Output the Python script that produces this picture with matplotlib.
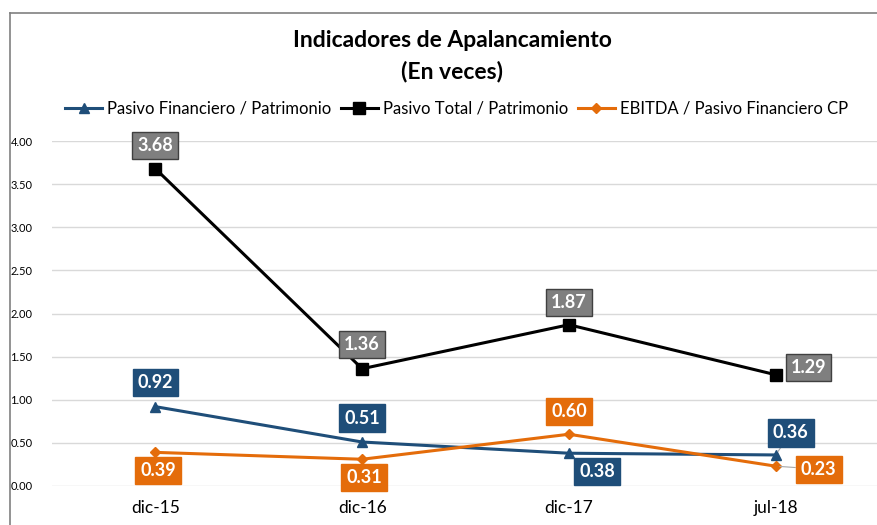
import matplotlib.pyplot as plt
from matplotlib.lines import Line2D

plt.rcParams['font.family'] = ['Lato', 'DejaVu Sans']

periods = ['dic-15', 'dic-16', 'dic-17', 'jul-18']
pas_fin_patr = [0.92, 0.51, 0.38, 0.36]
pas_tot_patr = [3.68, 1.36, 1.87, 1.29]
ebitda_pfcp = [0.39, 0.31, 0.60, 0.23]

blue = '#1F4E79'
orange = '#E46C0A'
gray = '#7F7F7F'

fig = plt.figure(figsize=(8.78, 5.25), dpi=100)
ax = fig.add_axes([0.0592, 0.0743, 0.942, 0.657])

x = range(len(periods))
ax.plot(x, pas_fin_patr, color=blue, lw=2.2, marker='^', ms=7,
        label='Pasivo Financiero / Patrimonio', clip_on=False, zorder=3)
ax.plot(x, pas_tot_patr, color='black', lw=2.2, marker='s', ms=8,
        label='Pasivo Total / Patrimonio', clip_on=False, zorder=4)
ax.plot(x, ebitda_pfcp, color=orange, lw=2.2, marker='D', ms=5,
        label='EBITDA / Pasivo Financiero CP', clip_on=False, zorder=3)

ax.set_xlim(-0.5, 3.5)
ax.set_ylim(0, 4)
ax.set_yticks([0, 0.5, 1, 1.5, 2, 2.5, 3, 3.5, 4])
ax.set_yticklabels(['%.2f' % v for v in ax.get_yticks()], fontsize=8)
ax.set_xticks(list(x))
ax.set_xticklabels(periods, fontsize=12.5)
ax.grid(axis='y', color='#D9D9D9', lw=1)
ax.set_axisbelow(True)
for s in ax.spines.values():
    s.set_visible(False)
ax.tick_params(length=0)
ax.tick_params(axis='y', pad=14)
ax.tick_params(axis='x', pad=10)

# offsets of the data labels in pixels
offs_blue = [(0, 24), (0, 24), (28, -18), (15, 22)]
offs_black = [(0, 23), (0, 24), (0, 22), (33, 7)]
offs_orange = [(3, -18), (2, -18), (0, 23), (43, -3)]

def labels(vals, offs, fc, ec, leaders=()):
    for i, (v, o) in enumerate(zip(vals, offs)):
        ap = None
        if i in leaders:
            ap = dict(arrowstyle='-', color='#A6A6A6', lw=0.8, shrinkA=0, shrinkB=3)
        ax.annotate('%.2f' % v, (i, v), xytext=o, textcoords='offset pixels',
                    ha='center', va='center', color='white', fontsize=13,
                    fontweight='bold', annotation_clip=False, arrowprops=ap,
                    bbox=dict(boxstyle='square,pad=0.28', fc=fc, ec=ec, lw=1),
                    zorder=6)

labels(pas_fin_patr, offs_blue, blue, blue, leaders=(3,))
labels(pas_tot_patr, offs_black, gray, '#404040')
labels(ebitda_pfcp, offs_orange, orange, orange, leaders=(3,))

fig.text(0.515, 0.922, 'Indicadores de Apalancamiento', ha='center', va='center',
         fontsize=16.5, fontweight='bold')
fig.text(0.515, 0.864, '(En veces)', ha='center', va='center',
         fontsize=16.5, fontweight='bold')

fig.legend(loc='center', bbox_to_anchor=(0.52, 0.793), ncol=3, frameon=False,
           fontsize=12, handlelength=2.2, handletextpad=0.3, columnspacing=0.6)

fig.add_artist(Line2D([10 / 878, 10 / 878], [0, 1 - 13 / 525], color='#808080', lw=1.2))
fig.add_artist(Line2D([10 / 878, 1], [1 - 13 / 525, 1 - 13 / 525], color='#808080', lw=1.2))

fig.savefig('out.png', dpi=100)
